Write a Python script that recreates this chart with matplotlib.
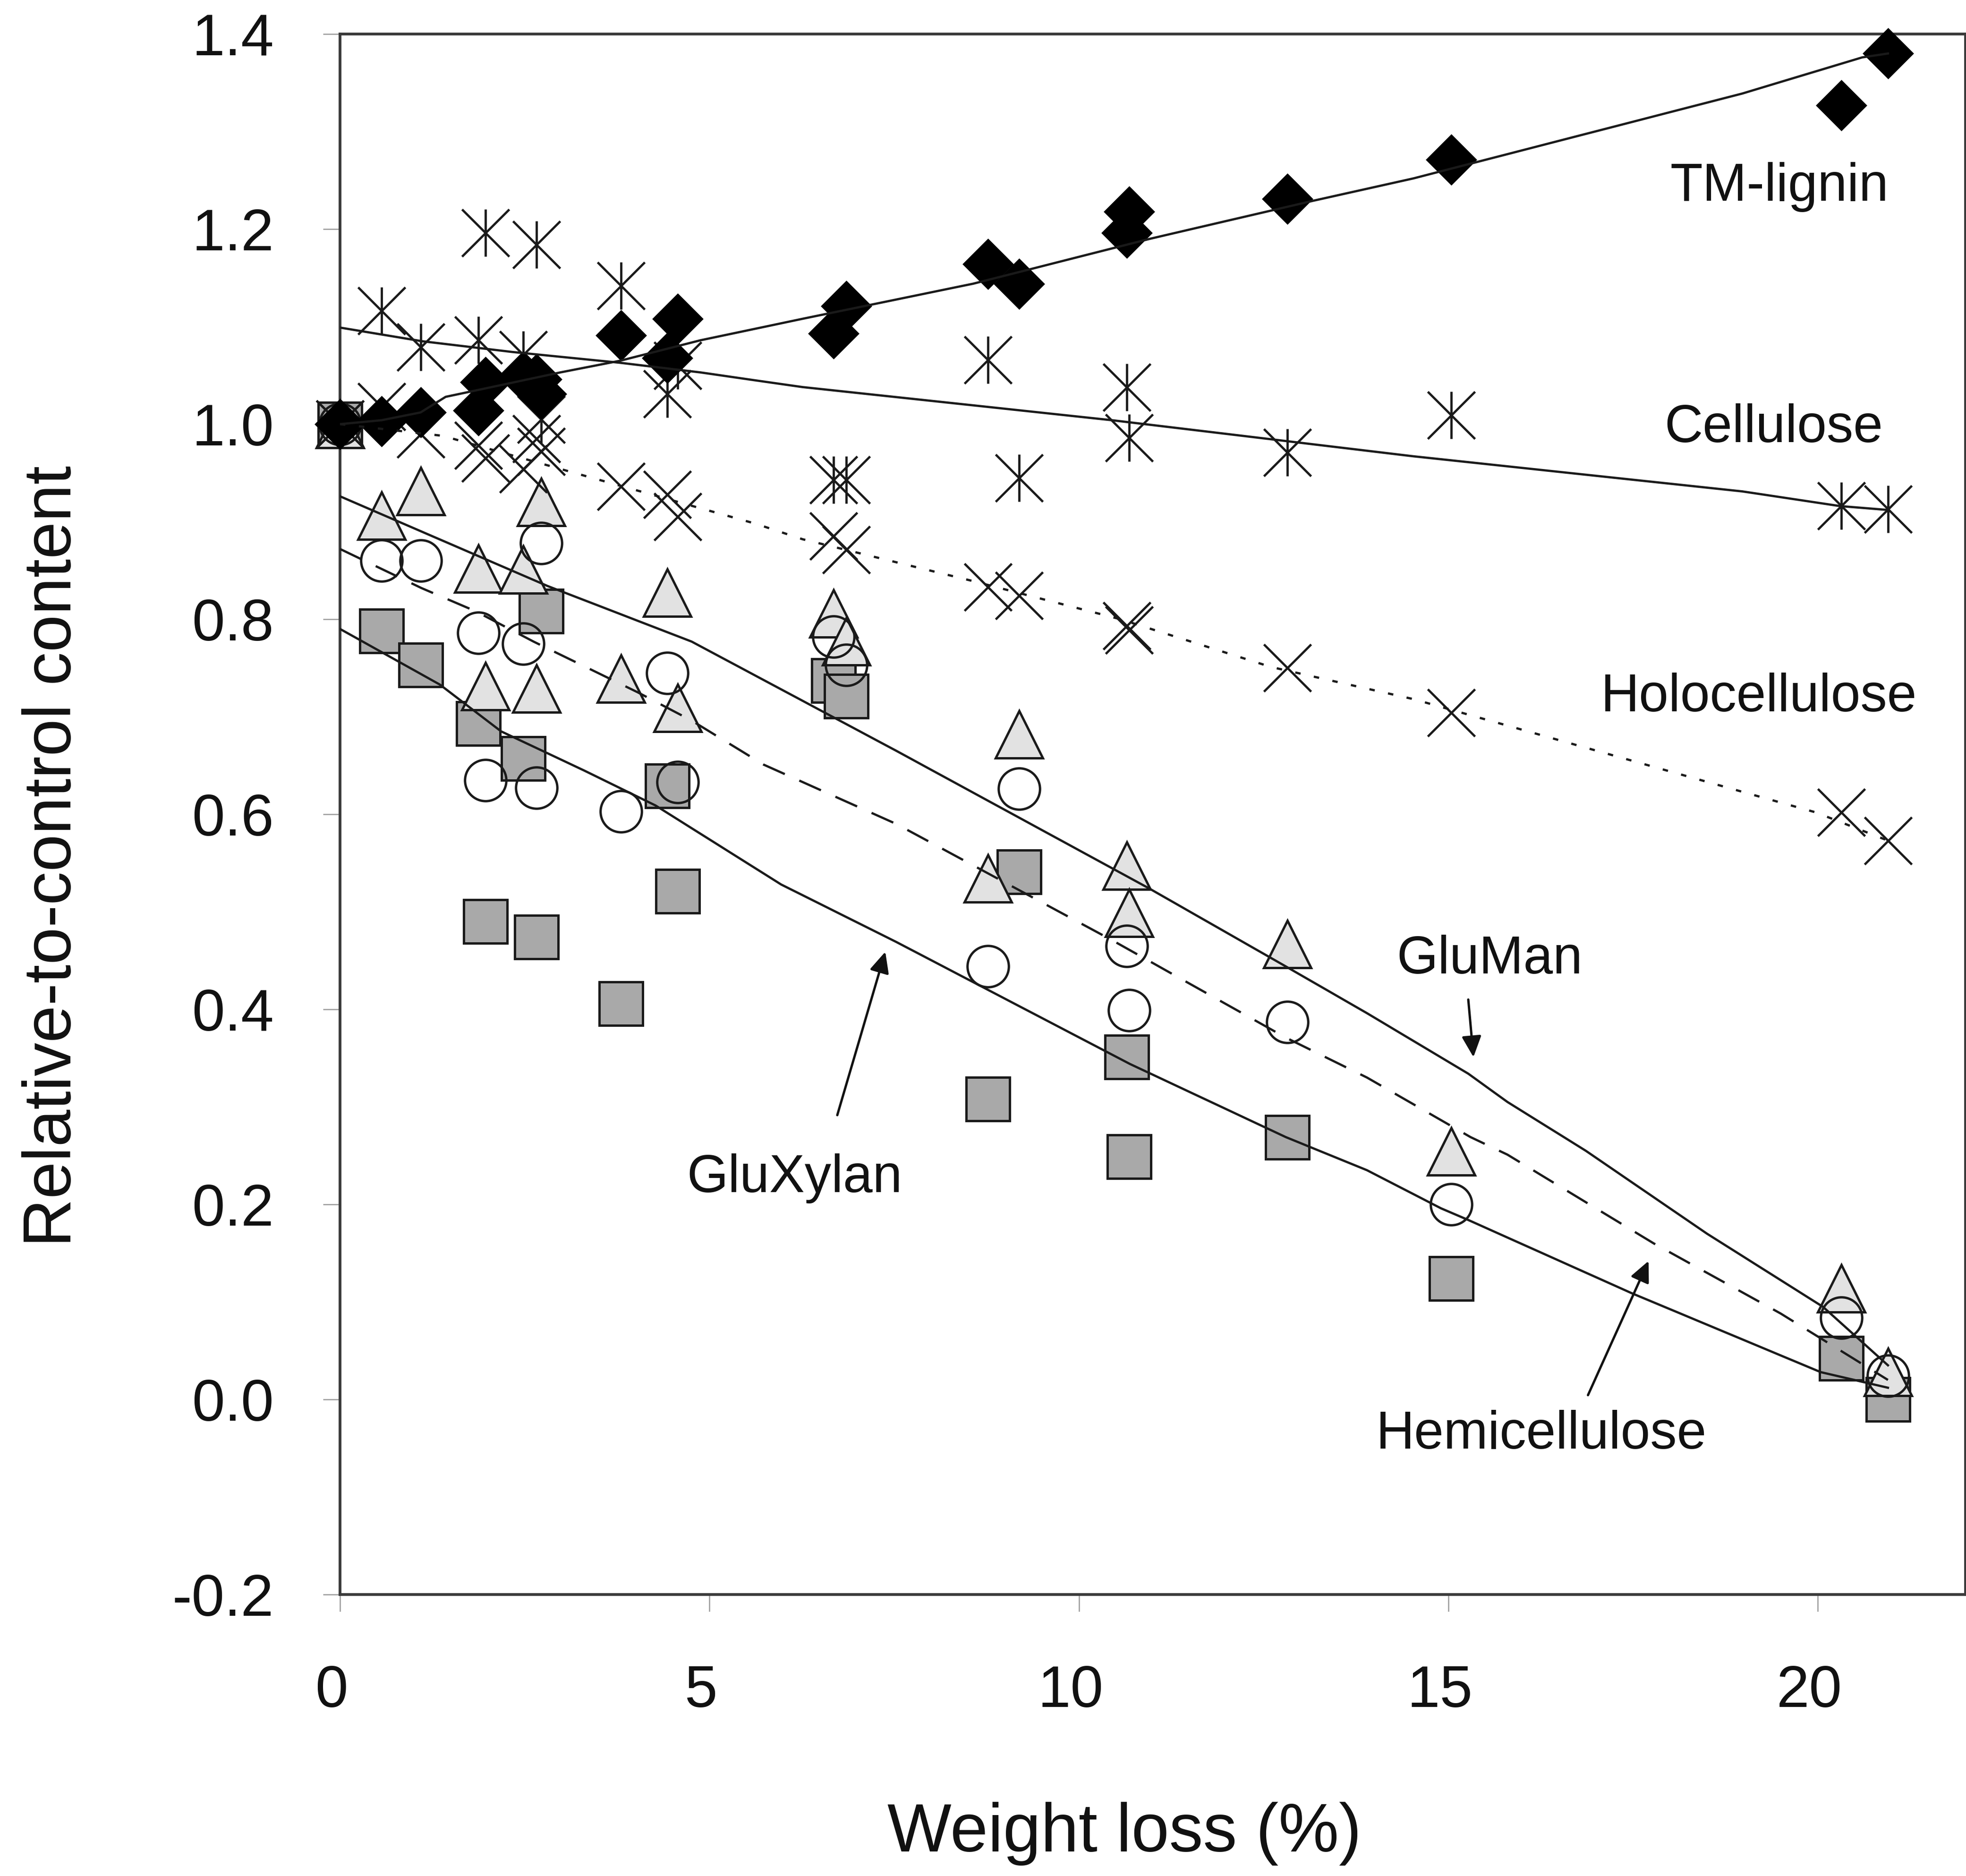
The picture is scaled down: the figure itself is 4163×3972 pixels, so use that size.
import numpy as np
import matplotlib
matplotlib.use("Agg")
import matplotlib.pyplot as plt
from matplotlib.path import Path
from matplotlib.transforms import ScaledTranslation

plt.rcParams['font.family'] = ['Liberation Sans', 'DejaVu Sans']

# ---------------- data ----------------
weight_loss = [0, 0.56, 1.09, 1.87, 1.97, 2.48, 2.66, 2.72, 3.80, 4.43, 4.57,
               6.68, 6.85, 8.77, 9.19, 10.65, 10.68, 12.82, 15.04, 20.32, 20.95]

tm_lignin = [1.0, 1.003, 1.012, 1.014, 1.043, 1.049, 1.046, 1.031, 1.091, 1.068, 1.108,
             1.093, 1.121, 1.164, 1.144, 1.196, 1.218, 1.231, 1.271, 1.327, 1.38]
cellulose = [1.0, 1.116, 1.079, 1.086, 1.196, 1.071, 1.184, 1.005, 1.142, 1.031, 1.06,
             0.943, 0.943, 1.066, 0.945, 1.038, 0.986, 0.971, 1.009, 0.916, 0.913]
holocellulose = [1.0, 1.018, 0.99, 0.978, 0.965, 0.954, 0.985, 0.972, 0.936, 0.928, 0.905,
                 0.885, 0.871, 0.833, 0.824, 0.793, 0.789, 0.75, 0.704, 0.602, 0.573]
gluman = [1.0, 0.906, 0.931, 0.852, 0.731, 0.851, 0.729, 0.92, 0.739, 0.827, 0.709,
          0.806, 0.777, 0.534, 0.682, 0.547, 0.499, 0.467, 0.254, 0.114, 0.028]
hemicellulose = [1.0, 0.86, 0.86, 0.786, 0.635, 0.775, 0.627, 0.878, 0.603, 0.745, 0.633,
                 0.782, 0.753, 0.444, 0.626, 0.465, 0.399, 0.387, 0.20, 0.084, 0.024]
gluxylan = [1.0, 0.788, 0.753, 0.693, 0.49, 0.657, 0.474, 0.808, 0.406, 0.629, 0.521,
            0.737, 0.721, 0.308, 0.541, 0.351, 0.249, 0.269, 0.124, 0.042, 0.0]

# fitted curves
lignin_fit_x = [0, 0.56, 1.09, 1.43, 1.68, 2.98, 3.79, 4.88, 6.26, 8.57, 10.96, 13.17, 14.53, 18.98, 20.6, 20.95]
lignin_fit_y = [1.0, 1.004, 1.012, 1.028, 1.032, 1.053, 1.065, 1.086, 1.108, 1.144, 1.19, 1.229, 1.252, 1.339, 1.376, 1.38]

cell_fit_x = [0, 1.11, 2.33, 3.78, 4.88, 5.61, 6.26, 10.45, 14.53, 18.98, 20.3, 20.95]
cell_fit_y = [1.099, 1.085, 1.074, 1.063, 1.053, 1.045, 1.038, 1.004, 0.967, 0.931, 0.916, 0.912]

holo_fit_x = [0, 1.39, 3.22, 5.62, 6.26, 8.57, 10.56, 12.6, 14.53, 18.98, 19.97, 20.95]
holo_fit_y = [1.0, 0.988, 0.949, 0.898, 0.882, 0.839, 0.80, 0.751, 0.718, 0.623, 0.602, 0.573]

gluman_fit_x = [0, 2.81, 4.76, 7.53, 10.95, 12.8, 13.9, 15.27, 15.8, 16.86, 18.5, 20.07, 20.95]
gluman_fit_y = [0.926, 0.834, 0.777, 0.665, 0.524, 0.444, 0.396, 0.334, 0.305, 0.255, 0.17, 0.095, 0.035]

hemi_fit_x = [0, 1.1, 1.84, 2.62, 4.03, 4.76, 5.73, 7.53, 10.47, 12.8, 13.9, 15.3, 15.8, 17.78, 19.5, 20.95]
hemi_fit_y = [0.872, 0.832, 0.808, 0.777, 0.725, 0.696, 0.651, 0.59, 0.47, 0.371, 0.33, 0.269, 0.251, 0.16, 0.088, 0.02]

xylan_fit_x = [0, 1.35, 2.18, 3.30, 4.27, 5.97, 7.53, 10.69, 12.8, 13.9, 14.9, 15.27, 17.48, 20.04, 20.95]
xylan_fit_y = [0.79, 0.733, 0.685, 0.645, 0.609, 0.528, 0.469, 0.344, 0.269, 0.235, 0.196, 0.184, 0.109, 0.028, 0.012]

xticks = [0, 5, 10, 15, 20]
yticks = [-0.2, 0.0, 0.2, 0.4, 0.6, 0.8, 1.0, 1.2, 1.4]
ytick_labels = ['-0.2', '0.0', '0.2', '0.4', '0.6', '0.8', '1.0', '1.2', '1.4']

# ---------------- figure ----------------
W, H, DPI = 4163, 3972, 300
fig = plt.figure(figsize=(W / DPI, H / DPI), dpi=DPI)
fig.patch.set_facecolor('white')
ax = fig.add_axes([720 / W, 1 - 3376 / H, (4162 - 720) / W, (3376 - 72) / H])

ax.set_xlim(0, 22)
ax.set_ylim(-0.2, 1.4)

mew = 1.2
# squares - GluXylan
ax.plot(weight_loss, gluxylan, linestyle='none', marker='s', ms=22,
        mfc='#a9a9a9', mec='#1a1a1a', mew=mew, zorder=3.0, clip_on=False)
# triangles - GluMan
ax.plot(weight_loss, gluman, linestyle='none', marker='^', ms=24,
        mfc='#e2e2e2', mec='#1a1a1a', mew=mew, zorder=3.1, clip_on=False)
# circles - Hemicellulose
ax.plot(weight_loss, hemicellulose, linestyle='none', marker='o', ms=21,
        mfc='none', mec='#1a1a1a', mew=mew, zorder=3.2, clip_on=False)
# X - Holocellulose
ax.plot(weight_loss, holocellulose, linestyle='none', marker='x', ms=24,
        mec='#1a1a1a', mew=1.15, zorder=3.3, clip_on=False)
# asterisk - Cellulose
ast_path = Path([(-1, -1), (1, 1), (-1, 1), (1, -1), (0, -1), (0, 1)],
                [Path.MOVETO, Path.LINETO, Path.MOVETO, Path.LINETO, Path.MOVETO, Path.LINETO])
ax.plot(weight_loss, cellulose, linestyle='none', marker=ast_path, ms=24,
        mfc='none', mec='#1a1a1a', mew=1.15, zorder=3.4, clip_on=False)
# diamonds - TM-lignin
ax.plot(weight_loss, tm_lignin, linestyle='none', marker='D', ms=17.5,
        mfc='black', mec='black', mew=0.8, zorder=3.5, clip_on=False)

# fitted lines
lw = 1.15
ax.plot(lignin_fit_x, lignin_fit_y, color='#1a1a1a', lw=lw, zorder=4)
ax.plot(cell_fit_x, cell_fit_y, color='#1a1a1a', lw=lw, zorder=4)
ax.plot(holo_fit_x, holo_fit_y, color='#1a1a1a', lw=lw, linestyle=(0, (2.4, 6.0)), zorder=4)
ax.plot(gluman_fit_x, gluman_fit_y, color='#1a1a1a', lw=lw, zorder=4)
ax.plot(hemi_fit_x, hemi_fit_y, color='#1a1a1a', lw=lw, linestyle=(0, (10.5, 7.0)), zorder=4)
ax.plot(xylan_fit_x, xylan_fit_y, color='#1a1a1a', lw=lw, zorder=4)

# series labels
fs_txt = 27
ax.text(19.48, 1.229, 'TM-lignin', fontsize=fs_txt, ha='center', va='baseline', color='#111111')
ax.text(19.40, 0.9816, 'Cellulose', fontsize=fs_txt, ha='center', va='baseline', color='#111111')
ax.text(19.20, 0.7056, 'Holocellulose', fontsize=fs_txt, ha='center', va='baseline', color='#111111')
ax.text(15.56, 0.437, 'GluMan', fontsize=fs_txt, ha='center', va='baseline', color='#111111')
ax.text(6.15, 0.2126, 'GluXylan', fontsize=fs_txt, ha='center', va='baseline', color='#111111')
ax.text(16.26, -0.0504, 'Hemicellulose', fontsize=fs_txt, ha='center', va='baseline', color='#111111')

arrow_kw = dict(arrowstyle='-|>,head_length=0.75,head_width=0.35', lw=1.2,
                color='#111111', mutation_scale=12, shrinkA=0, shrinkB=0)
ax.annotate('', xy=(15.34, 0.351), xytext=(15.27, 0.410), arrowprops=arrow_kw, zorder=5)
ax.annotate('', xy=(7.38, 0.459), xytext=(6.73, 0.2915), arrowprops=arrow_kw, zorder=5)
ax.annotate('', xy=(17.71, 0.142), xytext=(16.89, 0.0044), arrowprops=arrow_kw, zorder=5)

# axes styling
for s in ax.spines.values():
    s.set_color('#3a3a3a')
    s.set_linewidth(1.4)

ax.set_xticks(xticks)
ax.set_xticklabels([str(t) for t in xticks])
ax.set_yticks(yticks)
ax.set_yticklabels(ytick_labels)
ax.tick_params(axis='both', direction='out', length=8.6, width=0.6, color='#9a9a9a',
               labelsize=30, labelcolor='#111111')
ax.tick_params(axis='x', pad=27)
ax.tick_params(axis='y', pad=25)

shift = ScaledTranslation(-18 / DPI, 0, fig.dpi_scale_trans)
for lab in ax.get_xticklabels():
    lab.set_transform(lab.get_transform() + shift)

ax.set_xlabel('Weight loss (%)', fontsize=34.5, color='#111111')
ax.set_ylabel('Relative-to-control content', fontsize=34, color='#111111')
ax.xaxis.set_label_coords(0.4826, -0.1329)
ax.yaxis.set_label_coords(-0.157, 0.473)

fig.savefig('out.png', dpi=DPI, facecolor='white')
